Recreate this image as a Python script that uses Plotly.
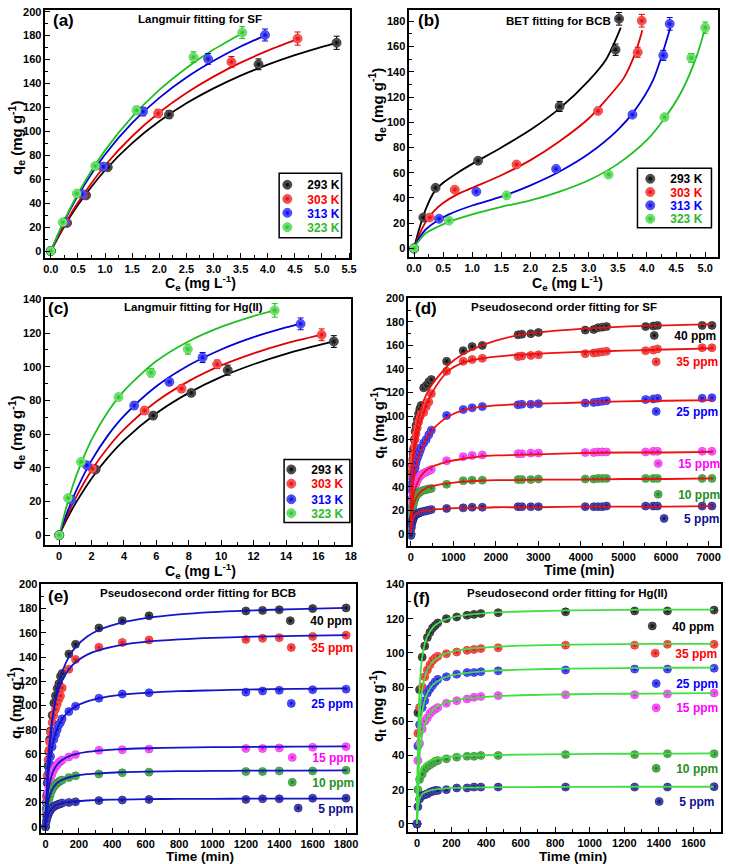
import plotly.graph_objects as go

W, H = 729, 864
FONT = "Liberation Sans, Arial, sans-serif"

# ---------------- (a) Langmuir fitting for SF ----------------
temps = ["293 K", "303 K", "313 K", "323 K"]
a_x = [[0, 0.3, 0.65, 1.05, 2.18, 3.83, 5.27],
       [0, 0.28, 0.6, 0.95, 1.98, 3.33, 4.55],
       [0, 0.26, 0.58, 0.97, 1.7, 2.9, 3.95],
       [0, 0.22, 0.48, 0.82, 1.58, 2.63, 3.53]]
a_y = [[0, 23.5, 46.5, 70, 114, 156, 174],
       [0, 24, 47, 70, 115, 158, 177.5],
       [0, 24, 47.5, 70.5, 116.5, 160.5, 180.5],
       [0, 24, 48, 71, 117.5, 162, 182.5]]
a_err = [[1, 1.5, 2, 2.5, 3, 4.5, 5.5],
         [1, 1.5, 2, 2.5, 3, 4.5, 5.5],
         [1, 1.5, 2, 2.5, 3.5, 4.5, 5],
         [1, 1.5, 2, 2.5, 3.5, 4.5, 5]]
a_fx = [[0, 0.25, 0.5, 1, 1.5, 2, 2.5, 3, 3.5, 4, 4.5, 5, 5.27],
        [0, 0.25, 0.5, 1, 1.5, 2, 2.5, 3, 3.5, 4, 4.55],
        [0, 0.25, 0.5, 1, 1.5, 2, 2.5, 3, 3.5, 3.95],
        [0, 0.25, 0.5, 1, 1.5, 2, 2.5, 3, 3.53]]
a_fy = [[0, 20.7, 38.4, 67.5, 90.2, 108.4, 123.4, 135.9, 146.6, 155.7, 163.6, 170.6, 174.0],
        [0, 21.7, 40.5, 71.5, 95.9, 115.7, 132.0, 145.7, 157.4, 167.4, 177.0],
        [0, 25.1, 46.4, 80.7, 107.1, 128.0, 145.0, 159.0, 170.9, 180.0],
        [0, 25.8, 48.0, 84.1, 112.1, 134.6, 153.0, 168.3, 182.0]]

# ---------------- (b) BET fitting for BCB ----------------
b_x = [[0, 0.16, 0.37, 1.1, 2.5, 3.46, 3.52],
       [0, 0.27, 0.7, 1.76, 3.16, 3.84, 3.91],
       [0, 0.43, 1.07, 2.44, 3.75, 4.28, 4.39],
       [0, 0.6, 1.59, 3.34, 4.3, 4.76, 5.0]]
b_y = [[0, 24.5, 48, 69.5, 112.5, 157.5, 182],
       [0, 24.5, 46.5, 66.5, 109, 155.5, 180.5],
       [0, 23.5, 45, 63, 106, 153, 178],
       [0, 22, 42, 58.5, 104, 151, 175]]
b_err = [[0.5, 1, 1.5, 2, 4, 4.5, 5],
         [0.5, 1, 1, 1.5, 2, 4, 5],
         [0.5, 1, 1, 1.5, 2, 4, 5],
         [0.5, 1, 1, 1.5, 2, 3.5, 4.5]]
b_fx = [[0, 0.05, 0.1, 0.2, 0.35, 0.5, 0.75, 1.0, 1.5, 2.0, 2.5, 3.0, 3.3, 3.55],
        [0, 0.05, 0.1, 0.2, 0.35, 0.5, 0.75, 1.0, 1.5, 2.0, 2.5, 3.0, 3.3, 3.6, 3.8, 3.92],
        [0, 0.05, 0.1, 0.2, 0.4, 0.6, 1.0, 1.5, 2.0, 2.5, 3.0, 3.5, 3.8, 4.1, 4.4],
        [0, 0.05, 0.1, 0.2, 0.4, 0.6, 1.0, 1.5, 2.0, 2.5, 3.0, 3.5, 4.0, 4.3, 4.6, 4.85, 5.0]]
b_fy = [[0, 9, 17, 31, 45, 52, 60, 67, 80, 94, 111, 133, 150, 175],
        [0, 6, 12, 21, 30, 36, 43, 48, 58, 70, 85, 103, 118, 135, 155, 173],
        [0, 5, 9, 15, 22, 27, 34, 41, 50, 61, 75, 94, 110, 133, 175],
        [0, 4, 7, 12, 17, 21, 27, 33, 38, 45, 54, 67, 86, 103, 125, 152, 175]]

# ---------------- (c) Langmuir fitting for Hg(II) ----------------
c_x = [[0, 2.25, 5.8, 8.15, 10.4, 16.95],
       [0, 2.05, 5.27, 7.55, 9.75, 16.2],
       [0, 0.75, 1.71, 4.63, 6.8, 8.85, 14.9],
       [0, 0.55, 1.35, 3.66, 5.67, 7.94, 13.3]]
c_y = [[0, 39, 71, 84.5, 98, 115],
       [0, 39.5, 74, 87, 101.5, 119],
       [0, 21, 41.5, 77, 91, 105.5, 125.5],
       [0, 22, 43.5, 82, 96.5, 110.5, 133.5]]
c_err = [[0.5, 1.5, 2, 2, 3, 3.5],
         [0.5, 1.5, 2, 2, 2.5, 3.5],
         [0.5, 1, 1.5, 2, 2, 3, 3.5],
         [0.5, 1, 1.5, 2, 2.5, 3, 4]]
c_fx = [[0, 0.5, 1, 2, 3, 4, 6, 8, 10, 12, 14, 17],
        [0, 0.5, 1, 2, 3, 4, 6, 8, 10, 12, 14, 16.2],
        [0, 0.5, 1, 2, 3, 4, 6, 8, 10, 12, 14, 14.9],
        [0, 0.5, 1, 2, 3, 4, 6, 8, 10, 12, 13.3]]
c_fy = [[0, 9.9, 18.7, 33.7, 46.0, 56.3, 72.4, 84.5, 94.0, 101.5, 107.7, 115.2],
        [0, 11.7, 21.8, 38.6, 51.9, 62.8, 79.4, 91.5, 100.8, 108.0, 113.9, 119.1],
        [0, 13.7, 25.4, 44.4, 59.1, 70.8, 88.4, 100.9, 110.3, 117.6, 123.4, 125.7],
        [0, 18.7, 33.8, 56.7, 73.2, 85.7, 103.4, 115.2, 123.7, 130.1, 133.5]]

# ---------------- kinetics ----------------
concs = ["40 ppm", "35 ppm", "25 ppm", "15 ppm", "10 ppm", "5 ppm"]

# (d) SF
d_t = [0, 10, 20, 30, 40, 50, 60, 80, 100, 120, 150, 180, 210, 240, 300, 360, 420, 480,
       840, 1230, 1440, 1680, 2520, 2610, 2820, 3000, 4100, 4300, 4400, 4500, 4600, 5520, 5700, 5800, 6850, 7080]
d_q = [
    [0, 42, 52, 58, 63, 68, 72, 80, 87, 92, 97, 102, 106, 109, 124, 126, 129, 131,
     146.5, 155.5, 159, 160, 169, 169.5, 170, 171, 173, 173.5, 175, 175.5, 176, 176, 176.5, 177, 177, 177],
    [0, 38, 48, 54, 59, 63, 67, 74, 80, 85, 90, 95, 99, 102, 103, 108, 112, 119,
     138, 146.5, 148, 149, 150.5, 151, 151.5, 152, 153, 153.5, 154, 154.5, 155, 155.5, 156, 157, 158, 158],
    [0, 22, 30, 36, 40, 44, 47, 52, 56, 60, 64, 67, 70, 73, 77, 80, 84, 88,
     100.5, 105.5, 107, 108, 109.5, 110, 110, 110.5, 111, 111.5, 112, 112.5, 113, 114, 114.5, 115, 115, 115.5],
    [0, 14, 20, 25, 28, 31, 34, 38, 41, 43, 45.5, 47.5, 49, 50, 51.5, 52.5, 53.5, 54.5,
     62, 65.5, 66.5, 67, 68, 68, 68.5, 68.5, 69, 69, 69.5, 69.5, 69.5, 69.5, 70, 70, 70, 70],
    [0, 10, 15, 19, 22, 24, 26, 28.5, 30.5, 32, 33.5, 34.5, 35.5, 36, 37, 37.5, 38, 38.5,
     42, 45, 45.5, 45.5, 46, 46, 46, 46.5, 46.5, 46.5, 47, 47, 47, 47, 47, 47, 47, 47],
    [-1.5, 5, 8, 10, 11.5, 12.5, 13.5, 15, 16, 16.5, 17, 17.5, 18, 18.5, 19, 19.5, 20, 20.5,
     21.5, 22, 22.5, 22.5, 23, 23, 23, 23, 23, 23, 23, 23, 23.5, 23.5, 23.5, 23.5, 23.5, 23.5],
]
d_ft = [0, 5, 15, 30, 60, 100, 150, 200, 300, 400, 500, 700, 900, 1200, 1600, 2000, 2500, 3000, 4000, 5000, 6000, 7100]
d_fq = [
    [0, 22, 40, 53, 68, 82, 93, 101, 113, 121, 127, 136, 144, 152, 159, 164, 168.5, 171, 174, 176, 177, 178],
    [0, 20, 38, 50, 62, 73, 83, 91, 103, 113, 120, 131, 139, 145, 148.5, 150.5, 152, 153, 154.5, 155.5, 156.5, 157.5],
    [0, 12, 24, 33, 44, 53, 61, 67, 76, 83, 88, 95, 100, 104.5, 107.5, 109, 110, 110.5, 111.5, 112.5, 113, 113.5],
    [0, 8, 17, 24, 32, 38, 43, 47, 52, 55, 57, 59.5, 61.5, 63.5, 65.5, 66.5, 67, 67.5, 68.5, 69, 69, 69.5],
    [0, 6, 13, 18, 24, 28.5, 32, 34.5, 37.5, 39.5, 40.5, 42, 43, 44, 45, 45.5, 45.5, 46, 46, 46.5, 46.5, 47],
    [0, 4, 8, 11, 14, 16, 17.5, 18.5, 19.5, 20, 20.5, 21, 21.5, 22, 22, 22.5, 22.5, 22.5, 23, 23, 23, 23.5],
]

# (e) BCB
e_t = [0, 5, 10, 15, 20, 25, 30, 40, 50, 60, 70, 80, 90, 100, 140, 180, 320, 460, 620, 1200, 1300, 1400, 1600, 1800]
e_q = [
    [0, 20, 36, 50, 62, 72, 79, 92, 102, 108, 114, 118, 124, 126.5, 142.5, 150.5, 164, 170, 174, 178, 178.5, 179, 180, 180.5],
    [0, 25, 42, 55, 63, 70, 78, 86, 92, 97, 101, 105, 108, 114.5, 130, 138, 148, 152, 154, 154.5, 155.5, 156, 157, 158],
    [0, 15, 27, 37, 45, 52, 58, 66, 72, 76, 80, 84, 86, 89, 95, 99.3, 106, 109.5, 110.5, 111, 112, 112.5, 113, 113.5],
    [0, 12, 20, 27, 32, 36, 39, 43.5, 47, 49.5, 51, 53, 54, 55, 57.5, 59.5, 63, 63.5, 64, 64.5, 64.5, 65, 65.5, 66],
    [0, 9, 15, 19, 22.5, 25, 27.5, 30.5, 33, 34.5, 36, 37, 38, 38.5, 40.5, 42, 43.5, 44.5, 45, 45.5, 45.5, 46, 46, 46.5],
    [0, 4.5, 7.5, 9.5, 11.5, 12.5, 14, 15.5, 16.5, 17.5, 18, 18.5, 19, 19.5, 20, 20.5, 21.5, 22, 22.5, 22.5, 23, 23, 23.5, 23.5],
]
e_ft = [0, 3, 10, 20, 35, 50, 75, 100, 140, 180, 250, 320, 450, 600, 800, 1000, 1200, 1500, 1800]
e_fq = [
    [0, 11.6, 33.7, 57, 81, 97.5, 115.8, 127.7, 140.1, 148.1, 156.9, 162.3, 168.2, 172.1, 175.2, 177.1, 178.3, 179.6, 180.5],
    [0, 13.2, 37, 60.1, 82.2, 96.3, 111.2, 120.6, 129.9, 135.7, 142, 145.7, 149.9, 152.5, 154.5, 155.8, 156.6, 157.5, 158.1],
    [0, 10.4, 28.7, 46, 62, 72.1, 82.5, 88.9, 95.3, 99.2, 103.4, 105.9, 108.7, 110.4, 111.8, 112.5, 113.1, 113.7, 114.1],
    [0, 8.2, 21.3, 32.3, 41.5, 46.9, 52.1, 55.1, 58.1, 59.9, 61.7, 62.8, 64, 64.7, 65.3, 65.6, 65.8, 66.1, 66.2],
    [0, 5.8, 14.9, 22.7, 29.1, 32.9, 36.6, 38.7, 40.7, 42, 43.3, 44, 44.9, 45.4, 45.8, 46, 46.2, 46.3, 46.4],
    [0, 2.9, 7.5, 11.3, 14.6, 16.5, 18.3, 19.3, 20.4, 21, 21.6, 22, 22.4, 22.7, 22.9, 23, 23.1, 23.2, 23.2],
]

# (f) Hg(II)
f_t = [0, 5, 15, 30, 45, 60, 75, 90, 105, 120, 170, 230, 290, 330, 370, 470, 860, 1260, 1450, 1720]
f_q = [
    [0, 65, 78.5, 97.5, 104, 109, 112, 114.5, 116, 117.5, 120, 121, 122, 122.5, 123, 123.5, 124, 124.5, 124.5, 125],
    [0, 53, 68, 80, 86, 90, 93, 95.5, 97, 98, 99.5, 100.5, 101.5, 102, 102.5, 103, 104.5, 104.5, 105, 105],
    [0, 45.5, 58, 68, 72, 76.5, 79, 81, 83, 84.5, 86, 87.5, 88.5, 88.5, 89, 89.5, 90, 90.5, 90.5, 91],
    [0, 37, 47, 55.5, 60, 62, 64.5, 66, 67, 68, 70.5, 72, 73, 74, 74.5, 75, 75.5, 75.5, 76, 76.5],
    [0, 20, 26, 29, 32, 33.5, 34.5, 35.5, 36.5, 37, 38, 39, 39.5, 39.5, 40, 40, 40.5, 40.5, 41, 41],
    [0, 10, 14.5, 16.5, 17, 17.5, 18.5, 19, 19.5, 19.5, 20, 21, 21, 21.5, 21.5, 21.5, 21.5, 21.5, 21.5, 21.7],
]
f_ft = [0, 2, 5, 10, 15, 20, 30, 45, 60, 90, 120, 170, 230, 300, 400, 600, 900, 1200, 1500, 1720]
f_fq = [
    [0, 23.1, 45.2, 66.6, 79.1, 87.2, 97.2, 105.2, 109.7, 114.6, 117.3, 119.7, 121.3, 122.4, 123.3, 124.2, 124.8, 125.1, 125.3, 125.3],
    [0, 16.7, 33.8, 51.3, 62, 69.1, 78.2, 85.7, 90, 94.8, 97.3, 99.7, 101.3, 102.4, 103.2, 104.2, 104.8, 105.1, 105.3, 105.3],
    [0, 13, 26.8, 41.5, 50.8, 57.2, 65.5, 72.4, 76.5, 81.1, 83.5, 85.9, 87.4, 88.4, 89.3, 90.2, 90.8, 91.1, 91.3, 91.4],
    [0, 9.3, 19.7, 31.4, 39.1, 44.6, 51.9, 58.2, 62, 66.3, 68.7, 70.9, 72.4, 73.5, 74.3, 75.2, 75.8, 76.1, 76.3, 76.4],
    [0, 8, 16, 24, 28, 30.5, 33, 35, 36.2, 37.5, 38.3, 39.1, 39.6, 39.9, 40.2, 40.5, 40.8, 41, 41.1, 41.2],
    [0, 4, 8.5, 12.5, 14.5, 15.8, 17.2, 18.3, 19, 19.8, 20.3, 20.7, 21, 21.2, 21.3, 21.5, 21.6, 21.7, 21.7, 21.7],
]

# ---------------- styles ----------------
# (center highlight, edge, text colour)
BALL = {
    "black": ("#6e6e6e", "#000000", "#000000"),
    "red": ("#ff7878", "#e00000", "#ff0000"),
    "blue": ("#7474ff", "#0000dd", "#0000ff"),
    "lime": ("#90f090", "#1fbf1f", "#2eb82e"),
    "magenta": ("#ff8cff", "#e000e0", "#ff00ff"),
    "dgreen": ("#74c474", "#137a13", "#1f8f1f"),
    "navy": ("#6a6ac0", "#000075", "#10108a"),
}
iso_cols = ["black", "red", "blue", "lime"]
kin_cols = ["black", "red", "blue", "magenta", "dgreen", "navy"]


def X(p):
    return p / W


def Y(p):
    return 1 - p / H


fig = go.Figure()

# panel geometry in pixels: left, top, right, bottom
panels = [
    dict(box=(43, 4, 352, 253.5), xr=[-0.1, 5.52], yr=[-5.6, 201.4], xd=0.5, xm=0.25, yd=20, ym=10, fmt=".1f"),
    dict(box=(412, 4, 725, 253), xr=[-0.08, 5.22], yr=[-7, 189], xd=0.5, xm=0.25, yd=20, ym=10, fmt=".1f"),
    dict(box=(43, 295, 353, 543), xr=[-0.85, 18.02], yr=[-6, 140.3], xd=2, xm=1, yd=20, ym=10, fmt=""),
    dict(box=(411, 294, 727, 544), xr=[-60, 7270], yr=[-10.6, 200.3], xd=1000, xm=500, yd=20, ym=10, fmt=""),
    dict(box=(39, 582, 358, 833), xr=[-24, 1860], yr=[-5.4, 200.3], xd=200, xm=100, yd=20, ym=10, fmt=""),
    dict(box=(411, 582, 728, 832), xr=[-50, 1760], yr=[-4.9, 140.3], xd=200, xm=100, yd=20, ym=10, fmt=""),
]

layout = dict(width=W, height=H, margin=dict(l=0, r=0, t=0, b=0),
              paper_bgcolor="white", plot_bgcolor="white",
              font=dict(family=FONT, size=12, color="black", weight="bold"))

for i, p in enumerate(panels):
    n = "" if i == 0 else str(i + 1)
    l, t, r, b = p["box"]
    tick = dict(showline=True, linecolor="black", linewidth=1.6, mirror=True,
                ticks="inside", ticklen=5, tickwidth=1.3, tickcolor="black",
                showgrid=False, zeroline=False,
                tickfont=dict(family=FONT, size=11, color="black", weight="bold"))
    layout["xaxis" + n] = dict(tick, domain=[X(l), X(r)], range=p["xr"], anchor="y" + n,
                               tick0=0, dtick=p["xd"], tickformat=p["fmt"],
                               minor=dict(dtick=p["xm"], tick0=0, ticks="inside", ticklen=3,
                                          tickwidth=1, tickcolor="black"))
    layout["yaxis" + n] = dict(tick, domain=[Y(b), Y(t)], range=p["yr"], anchor="x" + n,
                               tick0=0, dtick=p["yd"],
                               minor=dict(dtick=p["ym"], tick0=0, ticks="inside", ticklen=3,
                                          tickwidth=1, tickcolor="black"))

legend_count = [0]
legends = {}


def new_legend(xpx, ypx, color, size=12):
    legend_count[0] += 1
    k = legend_count[0]
    name = "legend" if k == 1 else "legend%d" % k
    legends[name] = dict(x=X(xpx), y=Y(ypx), xanchor="left", yanchor="middle",
                         bgcolor="rgba(0,0,0,0)", borderwidth=0,
                         font=dict(family=FONT, size=size, color=color, weight="bold"))
    return name


def add_points(ax_i, x, y, col, name, leg, size, err=None):
    n = "" if ax_i == 0 else str(ax_i + 1)
    c0, c1, _ = BALL[col]
    kw = {}
    if err is not None:
        kw["error_y"] = dict(type="data", array=err, visible=True, color=c1, thickness=1, width=3)
    fig.add_trace(go.Scatter(
        x=x, y=y, mode="markers", name=name, legend=leg, showlegend=True,
        xaxis="x" + n, yaxis="y" + n,
        marker=dict(size=size, color=c0, gradient=dict(type="radial", color=c1),
                    line=dict(width=0.6, color=c1)),
        **kw))


def add_line(ax_i, x, y, color, width=1.8):
    n = "" if ax_i == 0 else str(ax_i + 1)
    fig.add_trace(go.Scatter(x=x, y=y, mode="lines", showlegend=False, hoverinfo="skip",
                             xaxis="x" + n, yaxis="y" + n,
                             line=dict(color=color, width=width, shape="spline", smoothing=0.8)))


# ---- isotherm panels ----
iso_data = [(a_x, a_y, a_err, a_fx, a_fy), (b_x, b_y, b_err, b_fx, b_fy), (c_x, c_y, c_err, c_fx, c_fy)]
iso_leg = [  # legend left x (px), row centres (px)
    (268, [180, 194.3, 208.3, 222.7]),
    (636, [174, 187.3, 200.7, 214.3]),
    (272, [466.7, 481, 496.7, 510.7]),
]
iso_box = [(280, 168.3, 343.3, 233.3), (643.3, 163.3, 718.3, 223.3), (285, 456.7, 351.7, 520)]
shapes = []
for pi, (xs, ys, es, fxs, fys) in enumerate(iso_data):
    for k in range(4):
        add_line(pi, fxs[k], fys[k], BALL[iso_cols[k]][1], 1.8)
    lx, rows = iso_leg[pi]
    for k in range(4):
        leg = new_legend(lx, rows[k], BALL[iso_cols[k]][2], 12)
        add_points(pi, xs[k], ys[k], iso_cols[k], temps[k], leg, 9, es[k])
    x0, y0, x1, y1 = iso_box[pi]
    shapes.append(dict(type="rect", xref="paper", yref="paper", x0=X(x0), x1=X(x1), y0=Y(y1), y1=Y(y0),
                       line=dict(color="black", width=1.5), fillcolor="white", layer="above"))

# ---- kinetic panels ----
kin = [(3, d_t, d_q, d_ft, d_fq, "#ee1111"),
       (4, e_t, e_q, e_ft, e_fq, "#1515c8"),
       (5, f_t, f_q, f_ft, f_fq, "#44dd44")]
kin_leg = {
    3: [(640, 331.7), (642, 358.3), (642, 408.3), (644, 460.7), (644, 491.7), (650, 516)],
    4: [(271, 619), (272, 646), (272, 702.3), (273, 756.7), (273, 781.7), (279, 807.7)],
    5: [(638, 624.3), (641, 651.7), (642, 682.3), (642, 706.7), (642, 767.7), (645, 801)],
}
for pi, tt, qq, ft, fq, lc in kin:
    for k in range(6):
        lx, ly = kin_leg[pi][k]
        leg = new_legend(lx, ly, BALL[kin_cols[k]][2], 12)
        add_points(pi, tt, qq[k], kin_cols[k], concs[k], leg, 8)
    for k in range(6):
        add_line(pi, ft, fq[k], lc, 1.8)

# ---- annotations ----
ann = []


def text(xp, yp, s, size, xanchor="center", angle=0, color="black"):
    ann.append(dict(x=X(xp), y=Y(yp), xref="paper", yref="paper", text=s, showarrow=False,
                    xanchor=xanchor, yanchor="middle", textangle=angle,
                    font=dict(family=FONT, size=size, color=color, weight="bold")))


# panel labels
for xp, yp, s in [(49, 15, "(a)"), (419, 15, "(b)"), (44, 305, "(c)"),
                  (416, 305, "(d)"), (44, 595, "(e)"), (414, 597, "(f)")]:
    text(xp, yp, s, 17, "left")
# titles
text(200, 13.5, "Langmuir fitting for SF", 11.5)
text(563, 15, "BET fitting for BCB", 11.5)
text(193, 303.5, "Langmuir fitting for Hg(II)", 11.5)
text(569, 303.5, "Pseudosecond order fitting for SF", 11.5)
text(198, 591.5, "Pseudosecond order fitting for BCB", 11.5)
text(572.5, 591.5, "Pseudosecond order fitting for Hg(II)", 11.5)
# axis titles
qe = "q<sub>e</sub> (mg g<sup>-1</sup>)"
qt = "q<sub>t</sub> (mg g<sup>-1</sup>)"
ce = "C<sub>e</sub> (mg L<sup>-1</sup>)"
tm = "Time (min)"
text(13, 133, qe, 15, angle=-90)
text(379, 100, qe, 15, angle=-90)
text(13, 430, qe, 15, angle=-90)
text(380, 420, qt, 15, angle=-90)
text(12, 702, qt, 15, angle=-90)
text(379, 705, qt, 15, angle=-90)
text(200, 278.5, ce, 14)
text(572, 279, ce, 14)
text(200, 569, ce, 14)
text(585, 568, tm, 14)
text(200, 856.5, tm, 13.5)
text(578, 856.5, tm, 13.5)

layout["annotations"] = ann
layout["shapes"] = shapes
layout.update(legends)
fig.update_layout(**layout)
fig.write_html("out.html", config={"displayModeBar": False},
               post_script="document.body.style.margin='0';document.body.style.overflow='hidden';")
